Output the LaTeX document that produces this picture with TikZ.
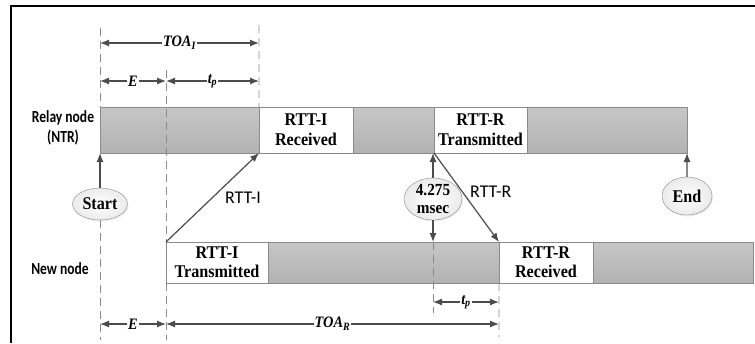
\documentclass[tikz,border=0pt]{standalone}
\usepackage{fontspec}
\setmainfont{Liberation Serif}
\setsansfont{Carlito}
\newfontfamily\boxfont[FakeStretch=0.9]{Liberation Serif}
\newfontfamily\rowfont[FakeStretch=0.8]{Carlito}
\usepackage{tikz}
\usetikzlibrary{positioning}
\usetikzlibrary{shapes.geometric,arrows.meta,shadows}
\definecolor{bartop}{HTML}{C6C6C6}
\definecolor{barbot}{HTML}{B2B2B2}
\definecolor{edgegrey}{HTML}{8A8A8A}
\definecolor{arrowgrey}{HTML}{4C4C4C}
\newcommand{\dimtext}[1]{\textbf{\textit{#1}}}

\begin{document}
\begin{tikzpicture}[x=1bp,y=-1bp,
greyseg/.style={rectangle, draw=edgegrey, top color=bartop, bottom color=barbot, inner sep=0pt, outer sep=0pt},
msgbox/.style={rectangle, draw=edgegrey, fill=white, inner sep=0pt, outer sep=0pt, align=center, font=\boxfont\fontsize{18}{20}\selectfont\bfseries},
relayrow/.style={minimum height=46bp},
newrow/.style={minimum height=41bp, font=\boxfont\fontsize{18}{19}\selectfont\bfseries},
event/.style={ellipse, draw=edgegrey, inner color=white, outer color=black!8, inner sep=0pt, align=center, font=\boxfont\fontsize{18}{18}\selectfont\bfseries, drop shadow={opacity=0.15, shadow xshift=1bp, shadow yshift=-1.5bp}},
rowlabel/.style={align=center, font=\rowfont\fontsize{17}{20}\selectfont\bfseries},
siglabel/.style={font=\sffamily\fontsize{18}{18}\selectfont, inner sep=0pt},
dimlabel/.style={fill=white, inner sep=1bp, font=\boxfont\fontsize{16}{16}\selectfont},
guide/.style={draw=edgegrey, dash pattern=on 8bp off 5bp, line width=0.8bp},
dimline/.style={{Latex[length=9bp,width=7bp]}-{Latex[length=9bp,width=7bp]}, draw=arrowgrey, line width=1.2bp},
sig/.style={-{Latex[length=9bp,width=7bp]}, draw=arrowgrey, line width=1.2bp}
]
\useasboundingbox (0,0) rectangle (755,343);
%Frame
\draw[line width=1.3bp] (11,343) -- (11,6) -- (755,6);
%Relay node bar
\node[greyseg, relayrow, minimum width=159bp, anchor=north west] (R1) at (100,107) {};
\node[msgbox, relayrow, minimum width=94bp] (R2) [right=0pt of R1] {RTT-I\\Received};
\node[greyseg, relayrow, minimum width=81bp] (R3) [right=0pt of R2] {};
\node[msgbox, relayrow, minimum width=93bp] (R4) [right=0pt of R3] {RTT-R\\Transmitted};
\node[greyseg, relayrow, minimum width=160bp] (R5) [right=0pt of R4] {};
%New node bar
\node[msgbox, newrow, minimum width=102bp, anchor=north west] (N1) at (166,242) {RTT-I\\Transmitted};
\node[greyseg, newrow, minimum width=231bp] (N2) [right=0pt of N1] {};
\node[msgbox, newrow, minimum width=94bp] (N3) [right=0pt of N2] {RTT-R\\Received};
\node[greyseg, newrow, minimum width=160bp] (N4) [right=0pt of N3] {};
%Row labels
\node[rowlabel] (relaylbl) at (63,128) {Relay node\\(NTR)};
\node[rowlabel] (newlbl) at (60,269) {New node};
%Events
\node[event, minimum width=55bp, minimum height=32bp] (Start) at (100,204) {Start};
\node[event, minimum width=58bp, minimum height=42bp, font=\boxfont\fontsize{17}{18}\selectfont\bfseries] (Ms) at (433,199) {4.275\\msec};
\node[event, minimum width=50bp, minimum height=38bp] (End) at (687,196) {End};
%Guides
\coordinate (g1top) at (100,28);
\coordinate (g1bot) at (100,340);
\coordinate (g2top) at (166,70);
\coordinate (g2bot) at (166,340);
\coordinate (g3top) at (259,25);
\coordinate (g4bot) at (433,313);
\coordinate (g5bot) at (499,337);
\draw[guide] (g1top) -- (R1.north west);
\draw[guide] (Start.south) -- (g1bot);
\draw[guide] (g2top) -- (N1.north west);
\draw[guide] (N1.south west) -- (g2bot);
\draw[guide] (g3top) -- (R1.north east);
\draw[guide] (Ms |- N2.north) -- (g4bot);
\draw[guide] (N2.south east) -- (g5bot);
%Dimensions
\coordinate (dimA) at (0,43);
\coordinate (dimB) at (0,81);
\coordinate (dimC) at (0,302);
\coordinate (dimD) at (0,324);
\draw[dimline] (g1top |- dimA) -- node[dimlabel]{\dimtext{TOA\textsubscript{I}}} (g3top |- dimA);
\draw[dimline] (g1top |- dimB) -- node[dimlabel]{\dimtext{E}} (g2top |- dimB);
\draw[dimline] (g2top |- dimB) -- node[dimlabel]{\dimtext{t\textsubscript{p}}} (g3top |- dimB);
\draw[dimline] (g4bot |- dimC) -- node[dimlabel]{\dimtext{t\textsubscript{p}}} (g5bot |- dimC);
\draw[dimline] (g1bot |- dimD) -- node[dimlabel]{\dimtext{E}} (g2bot |- dimD);
\draw[dimline] (g2bot |- dimD) -- node[dimlabel]{\dimtext{TOA\textsubscript{R}}} (g5bot |- dimD);
%Signals
\draw[sig] (Start.north) -- (R1.south west);
\draw[sig] (N1.north west) -- node[siglabel, pos=0.5, right=12bp]{RTT-I} (R2.south west);
\draw[sig] (R4.south west) -- node[siglabel, pos=0.44, right=7bp]{RTT-R} (N3.north west);
\draw[sig] (Ms.north) -- (Ms |- R4.south);
\draw[sig] (Ms.south) -- (Ms |- N2.north);
\draw[sig] (End.north) -- (R5.south east);
\end{tikzpicture}
\end{document}
